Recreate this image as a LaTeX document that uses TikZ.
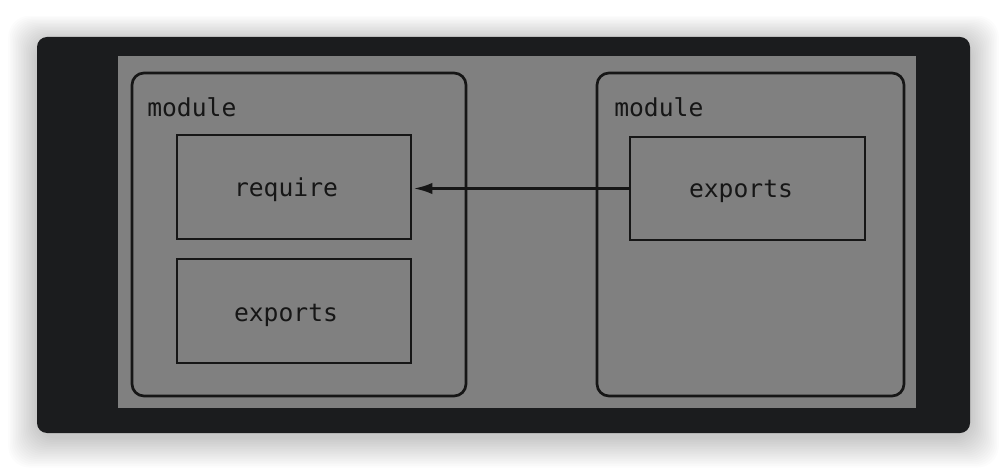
\documentclass[tikz,border=0pt]{standalone}
\usepackage{fontspec}
\setmonofont{DejaVu Sans Mono}
\usetikzlibrary{arrows.meta,positioning}
\definecolor{panelbg}{HTML}{1B1C1E}
\definecolor{canvasgray}{HTML}{808080}
\definecolor{inkline}{HTML}{161616}

\begin{document}
\begin{tikzpicture}[
    x=0.75pt, y=-0.75pt,
    modbox/.style={rectangle, rounded corners=9pt, draw=inkline, line width=2pt, minimum width=250.5pt, minimum height=242.25pt, inner sep=0pt, outer sep=0pt},
    partbox/.style={rectangle, draw=inkline, line width=2pt, minimum width=175.5pt, minimum height=78pt, inner sep=0pt, outer sep=0pt},
    partlabel/.style={anchor=base, inner sep=0pt, font=\fontsize{18.5}{22}\selectfont\ttfamily, text=inkline},
    modlabel/.style={anchor=base west, inner sep=0pt, font=\fontsize{18.5}{22}\selectfont\ttfamily, text=inkline},
    arrow/.style={-{Latex[length=14pt,width=8.5pt]}, inkline, line width=2pt}
]
\useasboundingbox (0,0) rectangle (1006,470);
\fill[white] (0,0) rectangle (1006,470);

% soft shadow round the panel
\foreach \i in {1,...,18}
  \fill[black, opacity=0.01, rounded corners=16pt] (37-1.6*\i,37-1.4*\i+4) rectangle (970+1.6*\i,433+1.7*\i+4);

% panel and canvas
\node[rectangle, rounded corners=7.5pt, fill=panelbg, minimum width=699.75pt, minimum height=297pt, inner sep=0pt] (panel) at (503.5,235) {};
\node[rectangle, fill=canvasgray, minimum width=598.5pt, minimum height=264pt, inner sep=0pt] (canvas) at (517,232) {};

% left module
\node[modbox] (modL) at (299,234.5) {};
\node[modlabel] (modLlbl) at (147,117) {module};
\node[partbox] (require) at (294,187) {};
\node[partlabel] (requireLbl) at (286,197) {require};
\node[partbox] (exportsL) at (294,311) {};
\node[partlabel] (exportsLlbl) at (286,321) {exports};

% right module
\node[modbox, minimum width=230.25pt] (modR) at (750.5,234.5) {};
\node[modlabel] (modRlbl) at (614,117) {module};
\node[partbox, minimum width=176.25pt, minimum height=77.25pt] (exportsR) at (747.5,188.5) {};
\node[partlabel] (exportsRlbl) at (741,198) {exports};

\draw[arrow, shorten >=2pt] (exportsR.west) -- (exportsR.west -| require.east);
\end{tikzpicture}
\end{document}
